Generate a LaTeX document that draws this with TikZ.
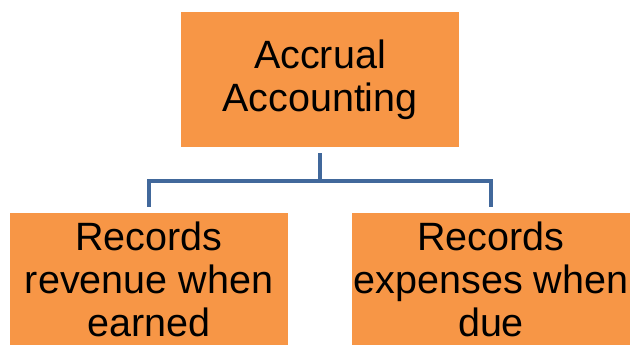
\documentclass[tikz,border=0pt]{standalone}
\usepackage{fontspec}
\setmainfont{Liberation Sans}
\usetikzlibrary{positioning,calc}
\definecolor{boxorange}{HTML}{F79646}
\definecolor{linkblue}{HTML}{41689B}

\begin{document}
\begin{tikzpicture}[x=1pt,y=1pt,
    box/.style={fill=boxorange,minimum width=278pt,align=center,inner sep=0pt,
        font=\fontsize{39.5}{43}\selectfont},
    link/.style={draw=linkblue,line width=4pt}]
\useasboundingbox (0,0) rectangle (631,345);
\node [box,minimum height=135pt] (acc) at (320,265.5) {Accrual\\Accounting};
\node [box,minimum height=132pt] (rev) at (149,66) {Records\\revenue when\\earned};
\node [box,minimum height=132pt] (exp) at (491,66) {Records\\expenses when\\due};
\coordinate (bar) at (320,164);
\draw [link] ([yshift=-6pt]acc.south) -- (bar);
\draw [link] (bar) -| ([yshift=6pt]rev.north);
\draw [link] (bar) -| ([yshift=6pt]exp.north);
\end{tikzpicture}
\end{document}
